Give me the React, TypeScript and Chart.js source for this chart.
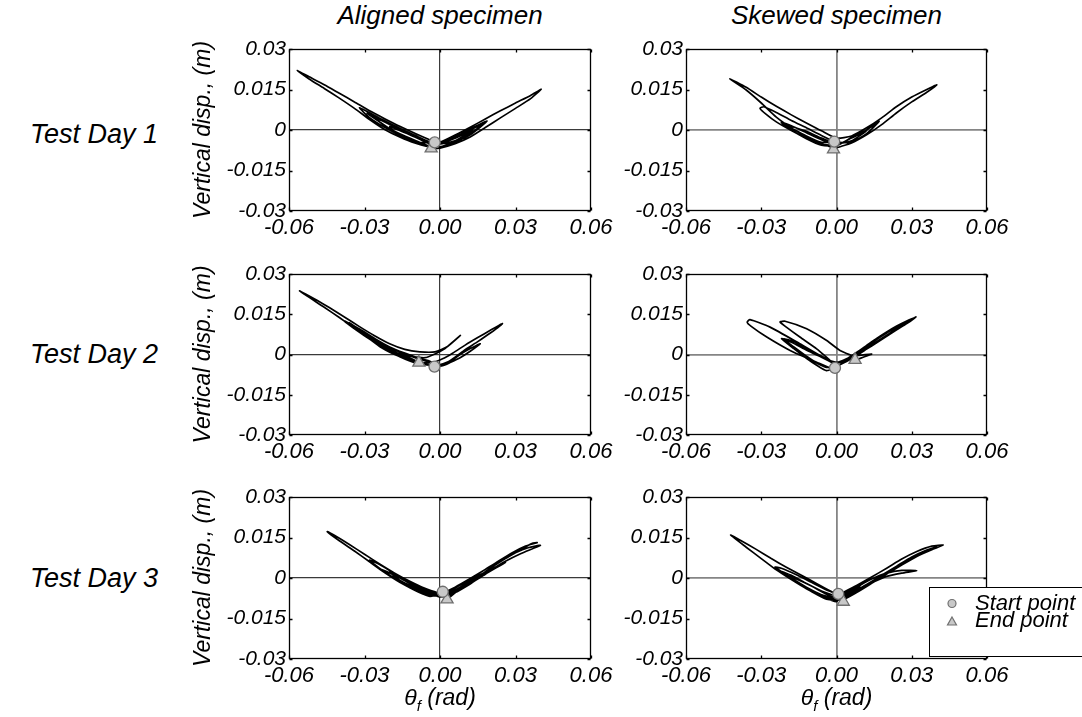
import React, { useEffect, useRef } from 'react';
import { Chart, registerables } from 'chart.js';

Chart.register(...registerables);

const FONT = "'Liberation Sans', Arial, Helvetica, sans-serif";

const xTickValues = [-0.06, -0.03, 0, 0.03, 0.06];
const xTickLabels = ['-0.06', '-0.03', '0.00', '0.03', '0.06'];
const yTickValues = [-0.03, -0.015, 0, 0.015, 0.03];
const yTickLabels = ['-0.03', '-0.015', '0', '0.015', '0.03'];
const columnTitles = ['Aligned specimen', 'Skewed specimen'];
const rowLabels = ['Test Day 1', 'Test Day 2', 'Test Day 3'];
const legendLabels = ['Start point', 'End point'];
const yAxisTitle = 'Vertical disp., (m)';

// ---- traces: [rotation (rad), vertical displacement (m)] ----
const alignedDay1 = [
  [-0.0021, -0.0046], [-0.010, -0.0046], [-0.016, -0.0022], [-0.020, 0.0012], [-0.016, -0.0002], [-0.010, -0.0026], [-0.003, -0.0054],
  [0.006, -0.0040], [0.013, 0.0000], [0.006, -0.0030], [0.000, -0.0050],
  [-0.004, -0.0060], [-0.010, -0.0038], [-0.016, -0.0014], [-0.022, 0.0016], [-0.026, 0.0045], [-0.022, 0.0030], [-0.016, 0.0002], [-0.010, -0.0024], [-0.003, -0.0050],
  [0.000, -0.0062], [0.006, -0.0044], [0.012, -0.0018], [0.0187, 0.0033], [0.012, 0.0004], [0.006, -0.0026], [0.000, -0.0048],
  [-0.004, -0.0062], [-0.010, -0.0042], [-0.016, -0.0019], [-0.022, 0.0010], [-0.028, 0.0046], [-0.032, 0.0082], [-0.028, 0.0064], [-0.022, 0.0034], [-0.016, 0.0006], [-0.010, -0.0020], [-0.003, -0.0048],
  [0.006, -0.0046], [0.012, -0.0014], [0.017, 0.0022], [0.012, 0.0000], [0.006, -0.0030], [0.000, -0.0052],
  [-0.006, -0.0058], [-0.012, -0.0036], [-0.018, -0.0008], [-0.024, 0.0030], [-0.029, 0.0062], [-0.024, 0.0040], [-0.018, 0.0010], [-0.012, -0.0016], [-0.006, -0.0040],
  [-0.003, -0.0064], [-0.010, -0.0048], [-0.016, -0.0026], [-0.022, 0.0002], [-0.028, 0.0039], [-0.034, 0.0080], [-0.040, 0.0118], [-0.046, 0.0154], [-0.052, 0.0189], [-0.0567, 0.0220],
  [-0.052, 0.0197], [-0.046, 0.0168], [-0.040, 0.0136], [-0.034, 0.0104], [-0.028, 0.0071], [-0.022, 0.0042], [-0.016, 0.0014], [-0.010, -0.0012], [-0.003, -0.0040],
  [0.000, -0.0045], [0.006, -0.0019], [0.012, 0.0010], [0.018, 0.0041], [0.024, 0.0071], [0.030, 0.0100], [0.036, 0.0128], [0.0402, 0.0151],
  [0.036, 0.0116], [0.030, 0.0080], [0.024, 0.0045], [0.018, 0.0009], [0.012, -0.0026], [0.006, -0.0051], [0.000, -0.0067], [-0.0035, -0.0068],
];
const alignedDay1Start = [-0.0021, -0.0046];
const alignedDay1End = [-0.0035, -0.0068];

const skewedDay1 = [
  [-0.0009, -0.0043], [-0.006, -0.0046], [-0.012, -0.0022], [-0.020, 0.0018], [-0.012, -0.0005], [-0.006, -0.0030], [0.000, -0.0050],
  [0.006, -0.0040], [0.012, -0.0003], [0.006, -0.0030], [0.000, -0.0056],
  [-0.006, -0.0052], [-0.012, -0.0030], [-0.018, -0.0002], [-0.024, 0.0030], [-0.028, 0.0058], [-0.0305, 0.0080], [-0.029, 0.0086], [-0.024, 0.0065], [-0.018, 0.0035], [-0.012, 0.0008], [-0.006, -0.0020], [0.000, -0.0045],
  [0.006, -0.0044], [0.012, -0.0014], [0.017, 0.0032], [0.012, 0.0000], [0.006, -0.0028], [0.000, -0.0058],
  [-0.006, -0.0056], [-0.012, -0.0032], [-0.018, 0.0000], [-0.022, 0.0028], [-0.018, 0.0016], [-0.012, -0.0010], [-0.006, -0.0036], [0.000, -0.0060],
  [0.000, -0.0070], [-0.006, -0.0050], [-0.012, -0.0025], [-0.018, 0.0008], [-0.024, 0.0048], [-0.030, 0.0100], [-0.036, 0.0148], [-0.0425, 0.0189],
  [-0.036, 0.0158], [-0.030, 0.0122], [-0.024, 0.0088], [-0.018, 0.0056], [-0.012, 0.0026], [-0.006, -0.0003], [0.000, -0.0030],
  [0.006, -0.0022], [0.012, 0.0008], [0.018, 0.0045], [0.024, 0.0087], [0.030, 0.0122], [0.036, 0.0150], [0.040, 0.0167],
  [0.036, 0.0140], [0.030, 0.0104], [0.024, 0.0064], [0.018, 0.0020], [0.012, -0.0018], [0.006, -0.0048], [0.000, -0.0066], [-0.0012, -0.0072],
];
const skewedDay1Start = [-0.0009, -0.0043];
const skewedDay1End = [-0.0012, -0.0072];

const alignedDay2 = [
  [-0.0022, -0.0045], [0.001, -0.0042], [0.004, -0.0030], [0.008, -0.0012], [0.012, 0.0012], [0.016, 0.0040], [0.012, 0.0022], [0.008, 0.0000], [0.005, -0.0020], [0.001, -0.0038],
  [-0.006, -0.0035], [-0.012, -0.0018], [-0.018, 0.0005], [-0.024, 0.0035], [-0.030, 0.0070], [-0.038, 0.0125], [-0.032, 0.0095], [-0.026, 0.0060], [-0.020, 0.0028], [-0.014, 0.0005], [-0.008, -0.0015], [-0.004, -0.0025],
  [-0.003, -0.0030], [0.001, -0.0016], [0.005, 0.0005], [0.010, 0.0035], [0.015, 0.0063], [0.020, 0.0090], [0.0248, 0.0115],
  [0.020, 0.0080], [0.015, 0.0048], [0.010, 0.0018], [0.006, -0.0010], [0.003, -0.0028], [-0.001, -0.0040],
  [-0.006, -0.0038], [-0.012, -0.0022], [-0.018, 0.0000], [-0.024, 0.0030], [-0.032, 0.0088], [-0.026, 0.0056], [-0.020, 0.0024], [-0.014, 0.0002], [-0.008, -0.0018], [-0.004, -0.0030],
  [-0.010, -0.0030], [-0.016, -0.0008], [-0.022, 0.0022], [-0.028, 0.0058], [-0.034, 0.0098], [-0.040, 0.0138], [-0.046, 0.0176], [-0.0558, 0.0237],
  [-0.050, 0.0208], [-0.044, 0.0175], [-0.038, 0.0140], [-0.032, 0.0104], [-0.026, 0.0070], [-0.020, 0.0040], [-0.014, 0.0019], [-0.008, 0.0010], [-0.002, 0.0010], [0.003, 0.0030], [0.0081, 0.0071],
  [0.005, 0.0046], [0.002, 0.0022], [-0.002, 0.0002], [-0.006, -0.0012],
  [-0.012, -0.0005], [-0.018, 0.0018], [-0.024, 0.0048], [-0.030, 0.0082], [-0.036, 0.0118], [-0.030, 0.0076], [-0.024, 0.0040], [-0.018, 0.0010], [-0.012, -0.0012], [-0.0084, -0.0030],
];
const alignedDay2Start = [-0.0022, -0.0045];
const alignedDay2End = [-0.0084, -0.0030];

const skewedDay2 = [
  [-0.0006, -0.0050], [-0.004, -0.0060],
  [-0.0079, -0.0040], [-0.0120, -0.0014], [-0.0170, 0.0022], [-0.0219, 0.0059], [-0.0180, 0.0046], [-0.0119, 0.0016], [-0.0060, -0.0010], [-0.0010, -0.0032],
  [0.004, -0.0022], [0.008, 0.0004], [0.012, 0.0030], [0.016, 0.0056], [0.020, 0.0080], [0.024, 0.0102], [0.028, 0.0122], [0.0317, 0.0140],
  [0.028, 0.0115], [0.024, 0.0092], [0.020, 0.0068], [0.016, 0.0044], [0.012, 0.0020], [0.008, -0.0004], [0.004, -0.0026], [0.000, -0.0045],
  [-0.0013, -0.0054], [-0.0079, -0.0029], [-0.0185, 0.0015], [-0.0278, 0.0065], [-0.0340, 0.0105], [-0.0356, 0.0120], [-0.0345, 0.0130], [-0.0265, 0.0102], [-0.0146, 0.0040], [-0.0053, -0.0010], [0.000, -0.0029],
  [0.004, -0.0016], [0.008, 0.0008], [0.012, 0.0034], [0.016, 0.0060], [0.020, 0.0084], [0.024, 0.0106], [0.028, 0.0125], [0.0315, 0.0138],
  [0.028, 0.0118], [0.024, 0.0096], [0.020, 0.0072], [0.016, 0.0048], [0.012, 0.0024], [0.008, 0.0000], [0.004, -0.0024], [0.000, -0.0042],
  [-0.004, -0.0048], [-0.0079, -0.0032], [-0.0120, -0.0006], [-0.0170, 0.0028], [-0.0210, 0.0058], [-0.0175, 0.0050], [-0.0119, 0.0020], [-0.0060, -0.0006], [-0.0026, -0.0022],
  [-0.0079, 0.0021], [-0.0146, 0.0065], [-0.0200, 0.0102], [-0.0225, 0.0121], [-0.0205, 0.0124], [-0.0119, 0.0096], [-0.0039, 0.0052], [0.0014, 0.0015], [0.0067, -0.0004],
  [0.0140, 0.0002], [0.0090, -0.0016], [0.0074, -0.0020],
];
const skewedDay2Start = [-0.0006, -0.0050];
const skewedDay2End = [0.0074, -0.0020];

const alignedDay3 = [
  [0.0011, -0.0051], [-0.004, -0.0060], [-0.010, -0.0036], [-0.016, -0.0008], [-0.020, 0.0022], [-0.016, 0.0004], [-0.010, -0.0026], [-0.004, -0.0052], [0.000, -0.0064],
  [0.006, -0.0050], [0.012, -0.0018], [0.020, 0.0030], [0.014, 0.0002], [0.008, -0.0034], [0.002, -0.0062],
  [-0.004, -0.0066], [-0.010, -0.0042], [-0.016, -0.0012], [-0.022, 0.0022], [-0.028, 0.0066], [-0.024, 0.0050], [-0.018, 0.0016], [-0.012, -0.0014], [-0.006, -0.0040], [0.000, -0.0060],
  [0.002, -0.0072], [0.008, -0.0044], [0.014, -0.0008], [0.020, 0.0028], [0.026, 0.0062], [0.032, 0.0090], [0.0399, 0.0121],
  [0.035, 0.0112], [0.030, 0.0094], [0.024, 0.0066], [0.018, 0.0032], [0.012, -0.0002], [0.006, -0.0034], [0.001, -0.0055],
  [-0.004, -0.0068], [-0.010, -0.0045], [-0.016, -0.0016], [-0.022, 0.0020], [-0.028, 0.0060], [-0.034, 0.0100], [-0.040, 0.0138], [-0.0448, 0.0172],
  [-0.042, 0.0158], [-0.036, 0.0124], [-0.030, 0.0088], [-0.024, 0.0052], [-0.018, 0.0018], [-0.012, -0.0012], [-0.006, -0.0038], [0.000, -0.0058],
  [0.002, -0.0066], [0.008, -0.0036], [0.014, -0.0002], [0.020, 0.0036], [0.026, 0.0072], [0.032, 0.0104], [0.0365, 0.0128], [0.0386, 0.0131],
  [0.034, 0.0118], [0.028, 0.0090], [0.022, 0.0055], [0.016, 0.0020], [0.010, -0.0015], [0.004, -0.0048], [0.000, -0.0066],
  [-0.006, -0.0062], [-0.012, -0.0036], [-0.018, -0.0004], [-0.024, 0.0034], [-0.018, 0.0010], [-0.012, -0.0020], [-0.006, -0.0046],
  [0.000, -0.0070], [0.006, -0.0054], [0.012, -0.0022], [0.018, 0.0014], [0.026, 0.0058], [0.020, 0.0030], [0.014, -0.0004], [0.008, -0.0040], [0.0028, -0.0079],
];
const alignedDay3Start = [0.0011, -0.0051];
const alignedDay3End = [0.0028, -0.0079];

const skewedDay3 = [
  [0.0007, -0.0059], [0.004, -0.0064], [0.0094, -0.0030], [0.004, -0.0060],
  [-0.002, -0.0070], [-0.006, -0.0062], [-0.012, -0.0036], [-0.018, -0.0004], [-0.022, 0.0024], [-0.018, 0.0010], [-0.012, -0.0020], [-0.006, -0.0048], [0.000, -0.0068],
  [0.002, -0.0076], [0.008, -0.0048], [0.014, -0.0018], [0.020, 0.0006], [0.026, 0.0018], [0.032, 0.0027], [0.026, 0.0028], [0.020, 0.0018], [0.014, -0.0004], [0.008, -0.0034], [0.002, -0.0064],
  [0.000, -0.0082], [-0.006, -0.0062], [-0.012, -0.0034], [-0.018, 0.0000], [-0.0245, 0.0040], [-0.022, 0.0036], [-0.016, 0.0012], [-0.010, -0.0016], [-0.004, -0.0044], [0.000, -0.0060],
  [0.002, -0.0082], [0.008, -0.0054], [0.014, -0.0020], [0.020, 0.0015], [0.026, 0.0048], [0.032, 0.0080], [0.038, 0.0105], [0.0426, 0.0122],
  [0.038, 0.0118], [0.032, 0.0098], [0.026, 0.0070], [0.020, 0.0036], [0.014, 0.0004], [0.008, -0.0028], [0.002, -0.0058],
  [0.000, -0.0088], [-0.006, -0.0068], [-0.012, -0.0040], [-0.018, -0.0006], [-0.024, 0.0030], [-0.030, 0.0072], [-0.036, 0.0114], [-0.0422, 0.0159],
  [-0.038, 0.0138], [-0.032, 0.0106], [-0.026, 0.0072], [-0.020, 0.0040], [-0.014, 0.0010], [-0.008, -0.0020], [-0.002, -0.0050],
  [0.004, -0.0064], [0.010, -0.0036], [0.016, -0.0002], [0.022, 0.0032], [0.028, 0.0064], [0.034, 0.0090], [0.040, 0.0115],
  [0.036, 0.0104], [0.030, 0.0078], [0.024, 0.0044], [0.018, 0.0010], [0.012, -0.0024], [0.006, -0.0056], [0.002, -0.0080],
  [-0.004, -0.0078], [-0.010, -0.0050], [-0.016, -0.0016], [-0.020, 0.0010], [-0.016, -0.0004], [-0.010, -0.0030], [-0.004, -0.0060], [0.0027, -0.0088],
];
const skewedDay3Start = [0.0007, -0.0059];
const skewedDay3End = [0.0027, -0.0088];

const panelData = [
  [alignedDay1, alignedDay1Start, alignedDay1End],
  [skewedDay1, skewedDay1Start, skewedDay1End],
  [alignedDay2, alignedDay2Start, alignedDay2End],
  [skewedDay2, skewedDay2Start, skewedDay2End],
  [alignedDay3, alignedDay3Start, alignedDay3End],
  [skewedDay3, skewedDay3Start, skewedDay3End],
];

// ---- layout (page pixels) ----
const ROW_TOP = [30, 255, 478];
const ROW_HEIGHT = [222, 221, 222];
const COL = [
  { left: 180, width: 440, yAxisWidth: 109, padRight: 29, zeroColor: '#3a3a3a', zeroWidth: 1.2 },
  { left: 610, width: 400, yAxisWidth: 76, padRight: 23, zeroColor: '#858585', zeroWidth: 1.8 },
];

const toXY = (pts: number[][]) => pts.map(([x, y]) => ({ x, y }));

const boxPlugin = {
  id: 'boxTicks',
  afterDraw(chart: any) {
    const { ctx, chartArea, scales } = chart;
    const l = Math.round(chartArea.left) + 0.5;
    const r = Math.round(chartArea.right) - 0.5;
    const t = Math.round(chartArea.top) + 0.5;
    const b = Math.round(chartArea.bottom) - 0.5;
    ctx.save();
    ctx.strokeStyle = '#000';
    ctx.lineWidth = 1.3;
    ctx.strokeRect(l, t, r - l, b - t);
    ctx.beginPath();
    const len = 3;
    xTickValues.forEach((v) => {
      const px = Math.round(scales.x.getPixelForValue(v)) + 0.5;
      ctx.moveTo(px, t); ctx.lineTo(px, t + len);
      ctx.moveTo(px, b); ctx.lineTo(px, b - len);
    });
    yTickValues.forEach((v) => {
      const py = Math.round(scales.y.getPixelForValue(v)) + 0.5;
      ctx.moveTo(l, py); ctx.lineTo(l + len, py);
      ctx.moveTo(r, py); ctx.lineTo(r - len, py);
    });
    ctx.stroke();
    ctx.restore();
  },
};

const legendPlugin = {
  id: 'markerLegend',
  afterDraw(chart: any) {
    const ctx = chart.ctx;
    const bx = 319.5, by = 109.5, bw = 200, bh = 69;
    ctx.save();
    ctx.fillStyle = '#fff';
    ctx.fillRect(bx, by, bw, bh);
    ctx.strokeStyle = '#000';
    ctx.lineWidth = 1;
    ctx.strokeRect(bx, by, bw, bh);
    ctx.fillStyle = '#c8c8c8';
    ctx.strokeStyle = '#707070';
    ctx.lineWidth = 1.2;
    ctx.beginPath();
    ctx.arc(342, 125.5, 4, 0, Math.PI * 2);
    ctx.fill(); ctx.stroke();
    ctx.beginPath();
    ctx.moveTo(342, 139);
    ctx.lineTo(346.5, 147);
    ctx.lineTo(337.5, 147);
    ctx.closePath();
    ctx.fill(); ctx.stroke();
    ctx.fillStyle = '#000';
    ctx.font = `italic 22px ${FONT}`;
    ctx.textBaseline = 'middle';
    ctx.textAlign = 'left';
    ctx.fillText(legendLabels[0], 365, 126);
    ctx.fillText(legendLabels[1], 365, 143);
    ctx.restore();
  },
};

function Panel({ index }: { index: number }) {
  const ref = useRef<HTMLCanvasElement | null>(null);
  const row = Math.floor(index / 2);
  const colIdx = index % 2;
  const col = COL[colIdx];
  const isLegend = index === 5;
  const width = isLegend ? 1082 - col.left : col.width;
  const padRight = isLegend ? 95 : col.padRight;
  const height = ROW_HEIGHT[row];

  useEffect(() => {
    const [trace, start, end] = panelData[index] as any;
    const chart = new Chart(ref.current as HTMLCanvasElement, {
      type: 'line',
      data: {
        datasets: [
          {
            data: [{ x: start[0], y: start[1] }],
            showLine: false,
            pointStyle: 'circle',
            pointRadius: 5.5,
            backgroundColor: '#c8c8c8',
            borderColor: '#6e6e6e',
            borderWidth: 1.3,
            order: 0,
          },
          {
            data: [{ x: end[0], y: end[1] }],
            showLine: false,
            pointStyle: 'triangle',
            pointRadius: 7,
            backgroundColor: '#c8c8c8',
            borderColor: '#6e6e6e',
            borderWidth: 1.3,
            order: 1,
          },
          {
            data: toXY(trace),
            borderColor: '#000',
            borderWidth: 1.7,
            pointRadius: 0,
            tension: 0.2,
            fill: false,
            order: 2,
          },
        ],
      },
      options: {
        animation: false,
        responsive: false,
        maintainAspectRatio: false,
        events: [],
        layout: { padding: { left: 0, right: padRight, top: 19, bottom: 0 } },
        plugins: { legend: { display: false }, tooltip: { enabled: false } },
        scales: {
          x: {
            type: 'linear',
            min: -0.06,
            max: 0.06,
            afterBuildTicks: (s: any) => { s.ticks = xTickValues.map((value) => ({ value })); },
            afterFit: (s: any) => { s.height = 41; s.paddingLeft = 0; s.paddingRight = 0; },
            ticks: {
              callback: (_v: any, i: number) => xTickLabels[i],
              font: { family: FONT, size: 22, style: 'italic' },
              color: '#000',
              padding: 4,
              maxRotation: 0,
              autoSkip: false,
            },
            grid: {
              drawTicks: false,
              color: (c: any) => (c.tick && c.tick.value === 0 ? col.zeroColor : 'rgba(0,0,0,0)'),
              lineWidth: col.zeroWidth,
            },
            border: { display: false },
          },
          y: {
            type: 'linear',
            min: -0.03,
            max: 0.03,
            afterBuildTicks: (s: any) => { s.ticks = yTickValues.map((value) => ({ value })); },
            afterFit: (s: any) => { s.width = col.yAxisWidth; s.paddingTop = 0; s.paddingBottom = 0; },
            ticks: {
              callback: (_v: any, i: number) => yTickLabels[i],
              font: { family: FONT, size: 21, style: 'italic' },
              color: '#000',
              padding: 3,
              autoSkip: false,
            },
            grid: {
              drawTicks: false,
              color: (c: any) => (c.tick && c.tick.value === 0 ? col.zeroColor : 'rgba(0,0,0,0)'),
              lineWidth: col.zeroWidth,
            },
            border: { display: false },
            title: {
              display: colIdx === 0,
              text: yAxisTitle,
              color: '#000',
              font: { family: FONT, size: 23, style: 'italic' },
              padding: { top: 10, bottom: 0 },
            },
          },
        },
      } as any,
      plugins: isLegend ? [boxPlugin, legendPlugin] : [boxPlugin],
    });
    return () => chart.destroy();
  }, [index]);

  return (
    <canvas
      ref={ref}
      width={width}
      height={height}
      style={{ position: 'absolute', left: col.left, top: ROW_TOP[row], width, height }}
    />
  );
}

const textBase: React.CSSProperties = {
  position: 'absolute',
  fontFamily: FONT,
  fontStyle: 'italic',
  color: '#000',
  whiteSpace: 'nowrap',
};

export default function App() {
  const colCenters = [440, 836.5];
  const rowCenters = [134, 354, 578];
  return (
    <div style={{ position: 'fixed', left: 0, top: 0, width: 1082, height: 717, background: '#fff', overflow: 'hidden' }}>
      {columnTitles.map((t, i) => (
        <div key={t} style={{ ...textBase, left: colCenters[i] - 150, width: 300, textAlign: 'center', top: 1, fontSize: 26, lineHeight: '28px' }}>{t}</div>
      ))}
      {rowLabels.map((t, i) => (
        <div key={t} style={{ ...textBase, left: 30, top: rowCenters[i] - 14, fontSize: 27, lineHeight: '28px' }}>{t}</div>
      ))}
      {[0, 1, 2, 3, 4, 5].map((i) => <Panel key={i} index={i} />)}
      {colCenters.map((c, i) => (
        <div key={'xl' + i} style={{ ...textBase, left: c - 100, width: 200, textAlign: 'center', top: 684, fontSize: 23, lineHeight: '26px' }}>
          θ<sub style={{ fontSize: 15, verticalAlign: '-6px' }}>f</sub> (rad)
        </div>
      ))}
    </div>
  );
}
